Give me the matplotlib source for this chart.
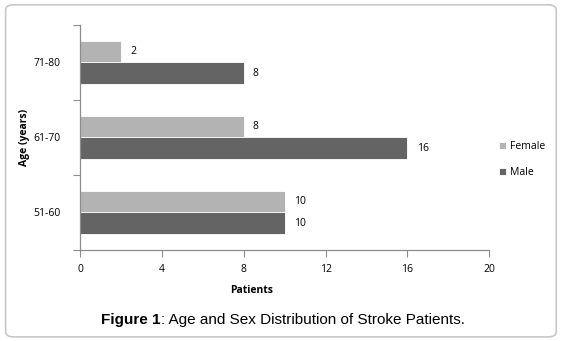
import matplotlib
matplotlib.use("Agg")
import matplotlib.pyplot as plt
from matplotlib.patches import FancyBboxPatch
import numpy as np

# age groups, bottom to top
age_groups = ["51-60", "61-70", "71-80"]
female = [10, 8, 2]
male = [10, 16, 8]

female_color = "#b3b3b3"
male_color = "#646464"
axis_color = "#8c8c8c"

plt.rcParams["font.family"] = ["Open Sans", "DejaVu Sans"]

fig = plt.figure(figsize=(5.63, 3.41), dpi=100)

# rounded frame around the whole figure
frame = FancyBboxPatch((0.01, 0.012), 0.978, 0.974, boxstyle="round,pad=0,rounding_size=0.015",
                       transform=fig.transFigure, facecolor="none", edgecolor="#c8c8c8",
                       linewidth=1.2)
fig.patches.append(frame)

ax = fig.add_axes([0.142, 0.267, 0.727, 0.66])
ax.set_facecolor("none")

y = np.arange(len(age_groups))
h = 0.287
bf = ax.barh(y + h / 2, female, height=h, color=female_color, edgecolor="white", linewidth=0.6, label="Female")
bm = ax.barh(y - h / 2, male, height=h, color=male_color, edgecolor="white", linewidth=0.6, label="Male")

for bars, vals in ((bf, female), (bm, male)):
    for b, v in zip(bars, vals):
        ax.text(v + 0.45, b.get_y() + b.get_height() / 2, str(v), va="center", ha="left", fontsize=7.5)

ax.set_xlim(0, 20)
ax.set_ylim(-0.5, len(age_groups) - 0.5)
ax.set_xticks(range(0, 21, 4))
ax.set_yticks(np.arange(-0.5, len(age_groups)))
ax.set_yticklabels([])
ax.set_yticks(y, minor=True)
ax.set_yticklabels(age_groups, minor=True)
ax.tick_params(axis="y", which="minor", length=0, pad=14, labelsize=7.5)
ax.tick_params(axis="y", which="major", length=5, color=axis_color)
ax.tick_params(axis="x", length=5, color=axis_color, labelsize=7.5, pad=5)

for s in ("top", "right"):
    ax.spines[s].set_visible(False)
for s in ("left", "bottom"):
    ax.spines[s].set_color(axis_color)
    ax.spines[s].set_linewidth(0.9)

ax.set_xlabel("Patients", fontsize=7.5, fontweight="bold")
ax.xaxis.set_label_coords(0.42, -0.155)
ax.set_ylabel("Age (years)", fontsize=7.5, fontweight="bold")
ax.yaxis.set_label_coords(-0.122, 0.5)

ax.legend(loc="center left", bbox_to_anchor=(1.0, 0.4), frameon=False, fontsize=7.5,
          handlelength=0.7, handleheight=0.7, handletextpad=0.4, labelspacing=1.45)

# caption: bold figure number followed by regular text
t1 = fig.text(0.18, 0.063, "Figure 1", fontsize=11, fontweight="bold", family="Liberation Sans",
              ha="left", va="center")
fig.canvas.draw()
bb = t1.get_window_extent()
fig.text(bb.x1 / fig.bbox.width, 0.063, ": Age and Sex Distribution of Stroke Patients.",
         fontsize=11, family="Liberation Sans", ha="left", va="center")

fig.savefig("out.png", dpi=100)
